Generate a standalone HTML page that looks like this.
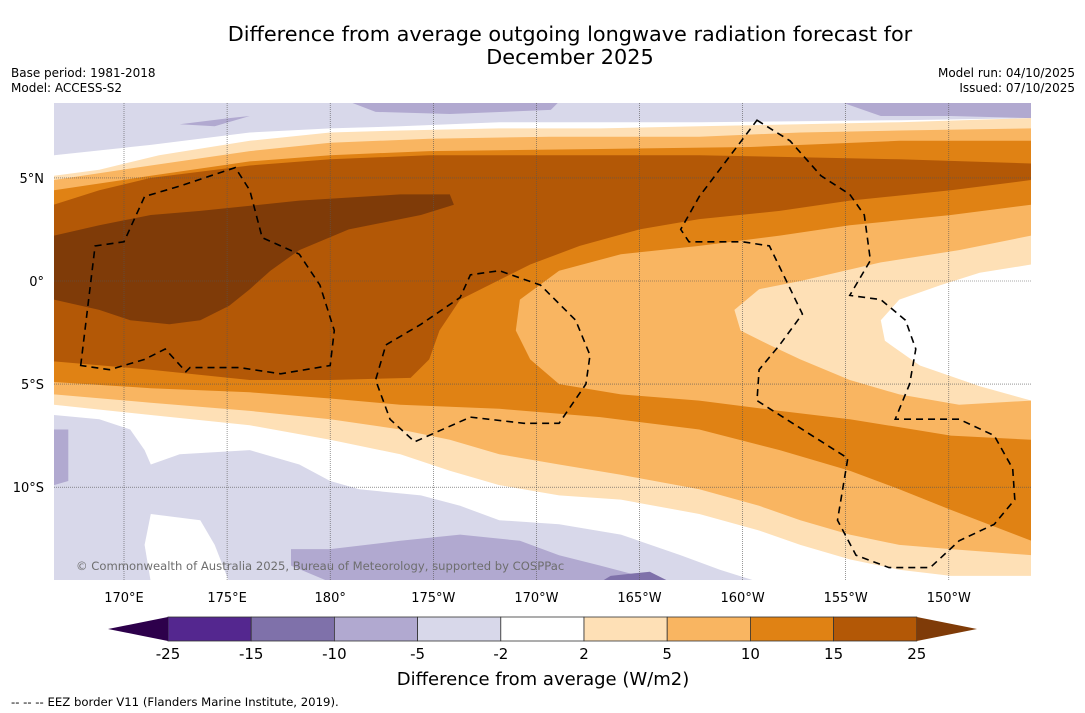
<!DOCTYPE html>
<html><head><meta charset="utf-8">
<style>
html,body{margin:0;padding:0;background:#fff;}
svg{display:block;font-family:"DejaVu Sans","Liberation Sans",sans-serif;}
</style></head>
<body>
<svg id="chart" width="1085" height="713" viewBox="0 0 1085 713">
  <text x="570" y="41" font-size="20.8" text-anchor="middle" fill="#000">Difference from average outgoing longwave radiation forecast for</text>
  <text x="570" y="64" font-size="20.8" text-anchor="middle" fill="#000">December 2025</text>
  <text x="11" y="77" font-size="12">Base period: 1981-2018</text>
  <text x="11" y="92" font-size="12">Model: ACCESS-S2</text>
  <text x="1075" y="77" font-size="12" text-anchor="end">Model run: 04/10/2025</text>
  <text x="1075" y="92" font-size="12" text-anchor="end">Issued: 07/10/2025</text>
  <defs><clipPath id="mapclip"><rect x="54" y="103" width="977" height="477"/></clipPath></defs>
  <g id="map" clip-path="url(#mapclip)"></g>
  <g id="axes"></g>
  <g id="cbar"></g>
  <text x="543" y="685" font-size="18" text-anchor="middle">Difference from average (W/m2)</text>
  <text x="11" y="706" font-size="11.7">--  --  -- EEZ border V11 (Flanders Marine Institute, 2019).</text>
</svg>
<script>
const lonTicks = [170,175,180,185,190,195,200,205,210];
const lonTickLabels = ["170°E","175°E","180°","175°W","170°W","165°W","160°W","155°W","150°W"];
const latTicks = [5,0,-5,-10];
const latTickLabels = ["5°N","0°","5°S","10°S"];
const levelBounds = [-25,-15,-10,-5,-2,2,5,10,15,25];
const levelColors = ["#54278f","#7f71aa","#b1a9d0","#d8d8ea","#ffffff","#fee0b6","#f9b561","#e08214","#b35806"];
const lowColor = "#2d004b", highColor = "#7f3b08";

const lavTop = [166.6,8.7, 214,8.7, 214,7.9, 207.6,7.8, 197.9,7.7, 188.2,7.7, 183.4,7.5, 180,7.4, 176.1,7.2, 171.3,6.6, 166.6,6.1];
const lavTopDark1 = [180.9,8.7, 191.1,8.7, 190.7,8.3, 185.8,8.1, 182.2,8.2];
const lavTopDark2 = [204.7,8.7, 214,8.7, 214,7.9, 210.1,8.0, 206.7,8.0];
const lavTopDark3 = [172.7,7.6, 175.1,7.9, 176.1,8.0, 174.4,7.5];
const lavBottom = [166.6,-6.5, 168.8,-6.7, 170.3,-7.2, 171,-8.2, 171.3,-8.9, 172.7,-8.4, 176.1,-8.2, 178.5,-8.9, 180,-9.7, 181.4,-10.1, 184.4,-10.4, 186.3,-10.9, 188.2,-11.6, 191.1,-11.8, 194.1,-12.3, 197,-13.3, 198.9,-14.0, 200.8,-14.6, 166.6,-14.6];
const whiteBottom = [171.3,-11.3, 173.7,-11.6, 174.4,-12.8, 175.1,-14.6, 171.3,-14.6, 171,-12.8];
const lavBottomDark1 = [166.6,-7.2, 167.3,-7.2, 167.3,-9.7, 166.6,-9.9];
const lavBottomDark2 = [178.1,-13.0, 180,-13.0, 183.4,-12.6, 186.3,-12.3, 189.2,-12.6, 191.1,-13.3, 193.1,-13.8, 195,-14.3, 197,-14.6, 180,-14.6, 178.1,-13.8];
const lavBottomDark3 = [193.6,-14.3, 195.5,-14.1, 196.5,-14.6, 193.1,-14.6];
const ge2 = [166.6,5.1, 168.8,5.4, 171.7,6.1, 176.1,6.8, 180,7.2, 183.4,7.3, 188.2,7.4, 193.1,7.4, 197.9,7.5, 202.8,7.6, 207.6,7.7, 214,7.9,
             214,-14.3, 210.1,-14.3, 207.6,-14.0, 205.2,-13.5, 202.8,-12.8, 200.8,-12.1, 197.9,-11.3, 194.1,-10.6, 191.1,-10.4, 188.2,-9.9, 185.8,-9.2, 183.4,-8.4, 180,-7.7, 176.1,-7.0, 171.3,-6.5, 166.6,-6.0];
const ge5 = [166.6,4.9, 171.3,5.6, 176.1,6.3, 180,6.7, 184.8,6.9, 190.7,7.0, 197.9,7.0, 202.8,7.2, 207.6,7.3, 214,7.4,
             214,-13.3, 210.1,-13.0, 207.6,-12.8, 205.2,-12.3, 202.8,-11.6, 200.8,-10.9, 197.9,-10.1, 194.1,-9.4, 191.1,-8.9, 188.2,-8.4, 185.8,-7.7, 183.4,-7.2, 180,-6.7, 176.1,-6.3, 171.3,-5.9, 166.6,-5.5];
const ge10 = [166.6,4.4, 171.3,5.1, 176.1,5.8, 180,6.1, 184.8,6.3, 193.1,6.4, 200.4,6.5, 207.6,6.8, 214,6.8,
              214,-12.6, 210.1,-11.1, 207.6,-10.1, 205.2,-9.2, 201.8,-8.2, 197.9,-7.2, 193.1,-6.6, 188.2,-6.2, 183.4,-6.0, 180,-5.7, 176.1,-5.4, 171.3,-5.2, 166.6,-4.9];
const ge15 = [166.6,3.7, 168.8,4.4, 171.3,5.0, 176.1,5.6, 180,5.9, 184.8,6.1, 193.1,6.1, 197.9,6.1, 202.8,6.0, 207.6,5.9, 214,5.7,
              214,4.9, 210.1,4.4, 205.2,3.9, 201.8,3.4, 197.9,3.0, 195,2.5, 192.1,1.7, 189.7,0.8, 187.7,-0.2, 186.3,-0.9, 185.3,-2.4, 184.8,-3.8, 183.9,-4.7, 180,-4.8, 176.1,-4.8, 171.3,-4.3, 166.6,-3.9];
const ge25 = [166.6,2.2, 168.8,2.7, 171.3,3.2, 173.7,3.4, 178.5,3.9, 183.4,4.2, 185.8,4.2, 186,3.7, 184.4,3.2, 180.9,2.5, 178.5,1.5, 177.1,0.5, 176.1,-0.4, 175.1,-1.2, 173.7,-1.9, 172.2,-2.1, 170.3,-1.9, 168.8,-1.4, 166.6,-0.9];
const patch5 = [214,3.7, 210.1,3.2, 205.2,2.7, 201.8,2.2, 197.9,1.7, 194.1,1.3, 191.1,0.5, 189.2,-0.9, 189,-2.4, 189.7,-3.8, 191.1,-5.0, 194.1,-5.5, 197.9,-5.8, 201.8,-6.3, 205.2,-6.7, 210.1,-7.5, 214,-7.7];
const patch2 = [214,2.2, 210.5,1.5, 206.7,0.9, 202.8,0.0, 200.8,-0.4, 199.6,-1.4, 199.9,-2.4, 201.3,-3.1, 202.8,-3.8, 205.2,-4.8, 207.6,-5.5, 210.5,-6.0, 214,-5.8];
const patchWhite = [214,0.8, 211.5,0.4, 209.6,-0.2, 207.6,-0.9, 206.7,-1.9, 206.9,-2.9, 208.6,-4.1, 211.5,-5.1, 214,-5.8];
const eez1 = [167.9,-4.1, 168.6,1.7, 170,1.9, 171,4.1, 172.7,4.6, 175.4,5.5, 176.1,4.4, 176.7,2.1, 178.5,1.3, 179.5,-0.2, 180.2,-2.4, 180,-4.1, 177.6,-4.5, 175.6,-4.2, 173.2,-4.2, 173,-4.4, 172,-3.3, 171,-3.8, 169.3,-4.3, 167.9,-4.1];
const eez2 = [182.7,-3.1, 184.4,-2.1, 186.3,-0.8, 186.8,0.3, 188.2,0.5, 190.2,-0.2, 191.9,-1.9, 192.6,-3.6, 192.4,-5.0, 191.1,-6.9, 189.4,-6.9, 186.8,-6.6, 184.1,-7.8, 182.9,-6.7, 182.2,-4.8, 182.7,-3.1];
const eez3 = [200.7,7.8, 202.3,6.8, 203.8,5.1, 205.2,4.2, 205.9,3.2, 206.2,1.0, 205.2,-0.7, 206.7,-0.9, 207.9,-1.9, 208.4,-3.3, 208.1,-5.0, 207.4,-6.7, 208.6,-6.7, 210.5,-6.7, 212.2,-7.5, 213.1,-9.1, 213.2,-10.6, 212.2,-11.8, 210.5,-12.6, 209.1,-13.9, 207.1,-13.9, 205.5,-13.3, 204.6,-11.6, 205.1,-8.6, 200.7,-5.8, 200.8,-4.3, 201.8,-3.1, 202.9,-1.6, 201.3,1.7, 200,1.9, 197.4,1.9, 197,2.5, 197.9,4.1, 200.7,7.8];

const NS="http://www.w3.org/2000/svg";
const X = lon => 124 + (lon-170)*20.62;
const Y = lat => 281 - lat*20.62;
function pts(a){let s=[];for(let i=0;i<a.length;i+=2)s.push(X(a[i]).toFixed(1)+","+Y(a[i+1]).toFixed(1));return s.join(" ");}
const map=document.getElementById('map');
function poly(g,a,fill,name,stroke,dash){
  const p=document.createElementNS(NS,'polygon');
  p.setAttribute('points',pts(a));
  p.setAttribute('fill',fill);
  if(stroke){p.setAttribute('stroke',stroke);p.setAttribute('stroke-width','1.6');p.setAttribute('stroke-dasharray',dash);}
  
  
  g.appendChild(p);
}
const bg=document.createElementNS(NS,'rect');
bg.setAttribute('x',54);bg.setAttribute('y',103);bg.setAttribute('width',977);bg.setAttribute('height',477);bg.setAttribute('fill','#fff');


map.appendChild(bg);
poly(map,lavTop,levelColors[3],'contour-minus5-north');
poly(map,lavTopDark1,levelColors[2],'contour-minus10-north-a');
poly(map,lavTopDark2,levelColors[2],'contour-minus10-north-b');
poly(map,lavTopDark3,levelColors[2],'contour-minus10-north-c');
poly(map,lavBottom,levelColors[3],'contour-minus5-south');
poly(map,whiteBottom,levelColors[4],'contour-neutral-south');
poly(map,lavBottomDark1,levelColors[2],'contour-minus10-south-a');
poly(map,lavBottomDark2,levelColors[2],'contour-minus10-south-b');
poly(map,lavBottomDark3,levelColors[1],'contour-minus15-south');
poly(map,ge2,levelColors[5],'contour-plus2');
poly(map,ge5,levelColors[6],'contour-plus5');
poly(map,ge10,levelColors[7],'contour-plus10');
poly(map,ge15,levelColors[8],'contour-plus15');
poly(map,ge25,highColor,'contour-plus25');
poly(map,patch5,levelColors[6],'contour-plus5-east');
poly(map,patch2,levelColors[5],'contour-plus2-east');
poly(map,patchWhite,levelColors[4],'contour-neutral-east');
lonTicks.forEach(l=>{const ln=document.createElementNS(NS,'line');ln.setAttribute('x1',X(l));ln.setAttribute('x2',X(l));ln.setAttribute('y1',103);ln.setAttribute('y2',580);ln.setAttribute('stroke','#555');ln.setAttribute('stroke-width','0.6');ln.setAttribute('stroke-dasharray','1,1');


map.appendChild(ln);});
latTicks.forEach(l=>{const ln=document.createElementNS(NS,'line');ln.setAttribute('y1',Y(l));ln.setAttribute('y2',Y(l));ln.setAttribute('x1',54);ln.setAttribute('x2',1031);ln.setAttribute('stroke','#555');ln.setAttribute('stroke-width','0.6');ln.setAttribute('stroke-dasharray','1,1');


map.appendChild(ln);});
poly(map,eez1,'none','eez-border-tuvalu','#000','7,5');
poly(map,eez2,'none','eez-border-tokelau','#000','7,5');
poly(map,eez3,'none','eez-border-line-islands','#000','7,5');
const cp=document.createElementNS(NS,'text');cp.setAttribute('x',76);cp.setAttribute('y',570);cp.setAttribute('font-size','11.6');cp.setAttribute('fill','#6e6e6e');cp.textContent='© Commonwealth of Australia 2025, Bureau of Meteorology, supported by COSPPac';


map.appendChild(cp);
const axes=document.getElementById('axes');
lonTicks.forEach((l,i)=>{const t=document.createElementNS(NS,'text');t.setAttribute('x',X(l));t.setAttribute('y',602);t.setAttribute('font-size','13');t.setAttribute('text-anchor','middle');t.textContent=lonTickLabels[i];


axes.appendChild(t);});
latTicks.forEach((l,i)=>{const t=document.createElementNS(NS,'text');t.setAttribute('x',44);t.setAttribute('y',Y(l)+5);t.setAttribute('font-size','13');t.setAttribute('text-anchor','end');t.textContent=latTickLabels[i];


axes.appendChild(t);});
const cb=document.getElementById('cbar');
const cx0=168, cw=83.2, cy=617, ch=24;
levelColors.forEach((c,i)=>{const r=document.createElementNS(NS,'rect');r.setAttribute('x',cx0+i*cw);r.setAttribute('y',cy);r.setAttribute('width',cw);r.setAttribute('height',ch);r.setAttribute('fill',c);r.setAttribute('stroke','#333');r.setAttribute('stroke-width','0.8');


cb.appendChild(r);});
const tl=document.createElementNS(NS,'polygon');tl.setAttribute('points',`108,629 ${cx0},${cy} ${cx0},${cy+ch}`);tl.setAttribute('fill',lowColor);


cb.appendChild(tl);
const xe=cx0+levelColors.length*cw;
const tr=document.createElementNS(NS,'polygon');tr.setAttribute('points',`${xe},${cy} 977,629 ${xe},${cy+ch}`);tr.setAttribute('fill',highColor);


cb.appendChild(tr);
levelBounds.forEach((b,i)=>{const t=document.createElementNS(NS,'text');t.setAttribute('x',cx0+i*cw);t.setAttribute('y',659);t.setAttribute('font-size','15');t.setAttribute('text-anchor','middle');t.textContent=String(b);


cb.appendChild(t);});
</script>
</body></html>
